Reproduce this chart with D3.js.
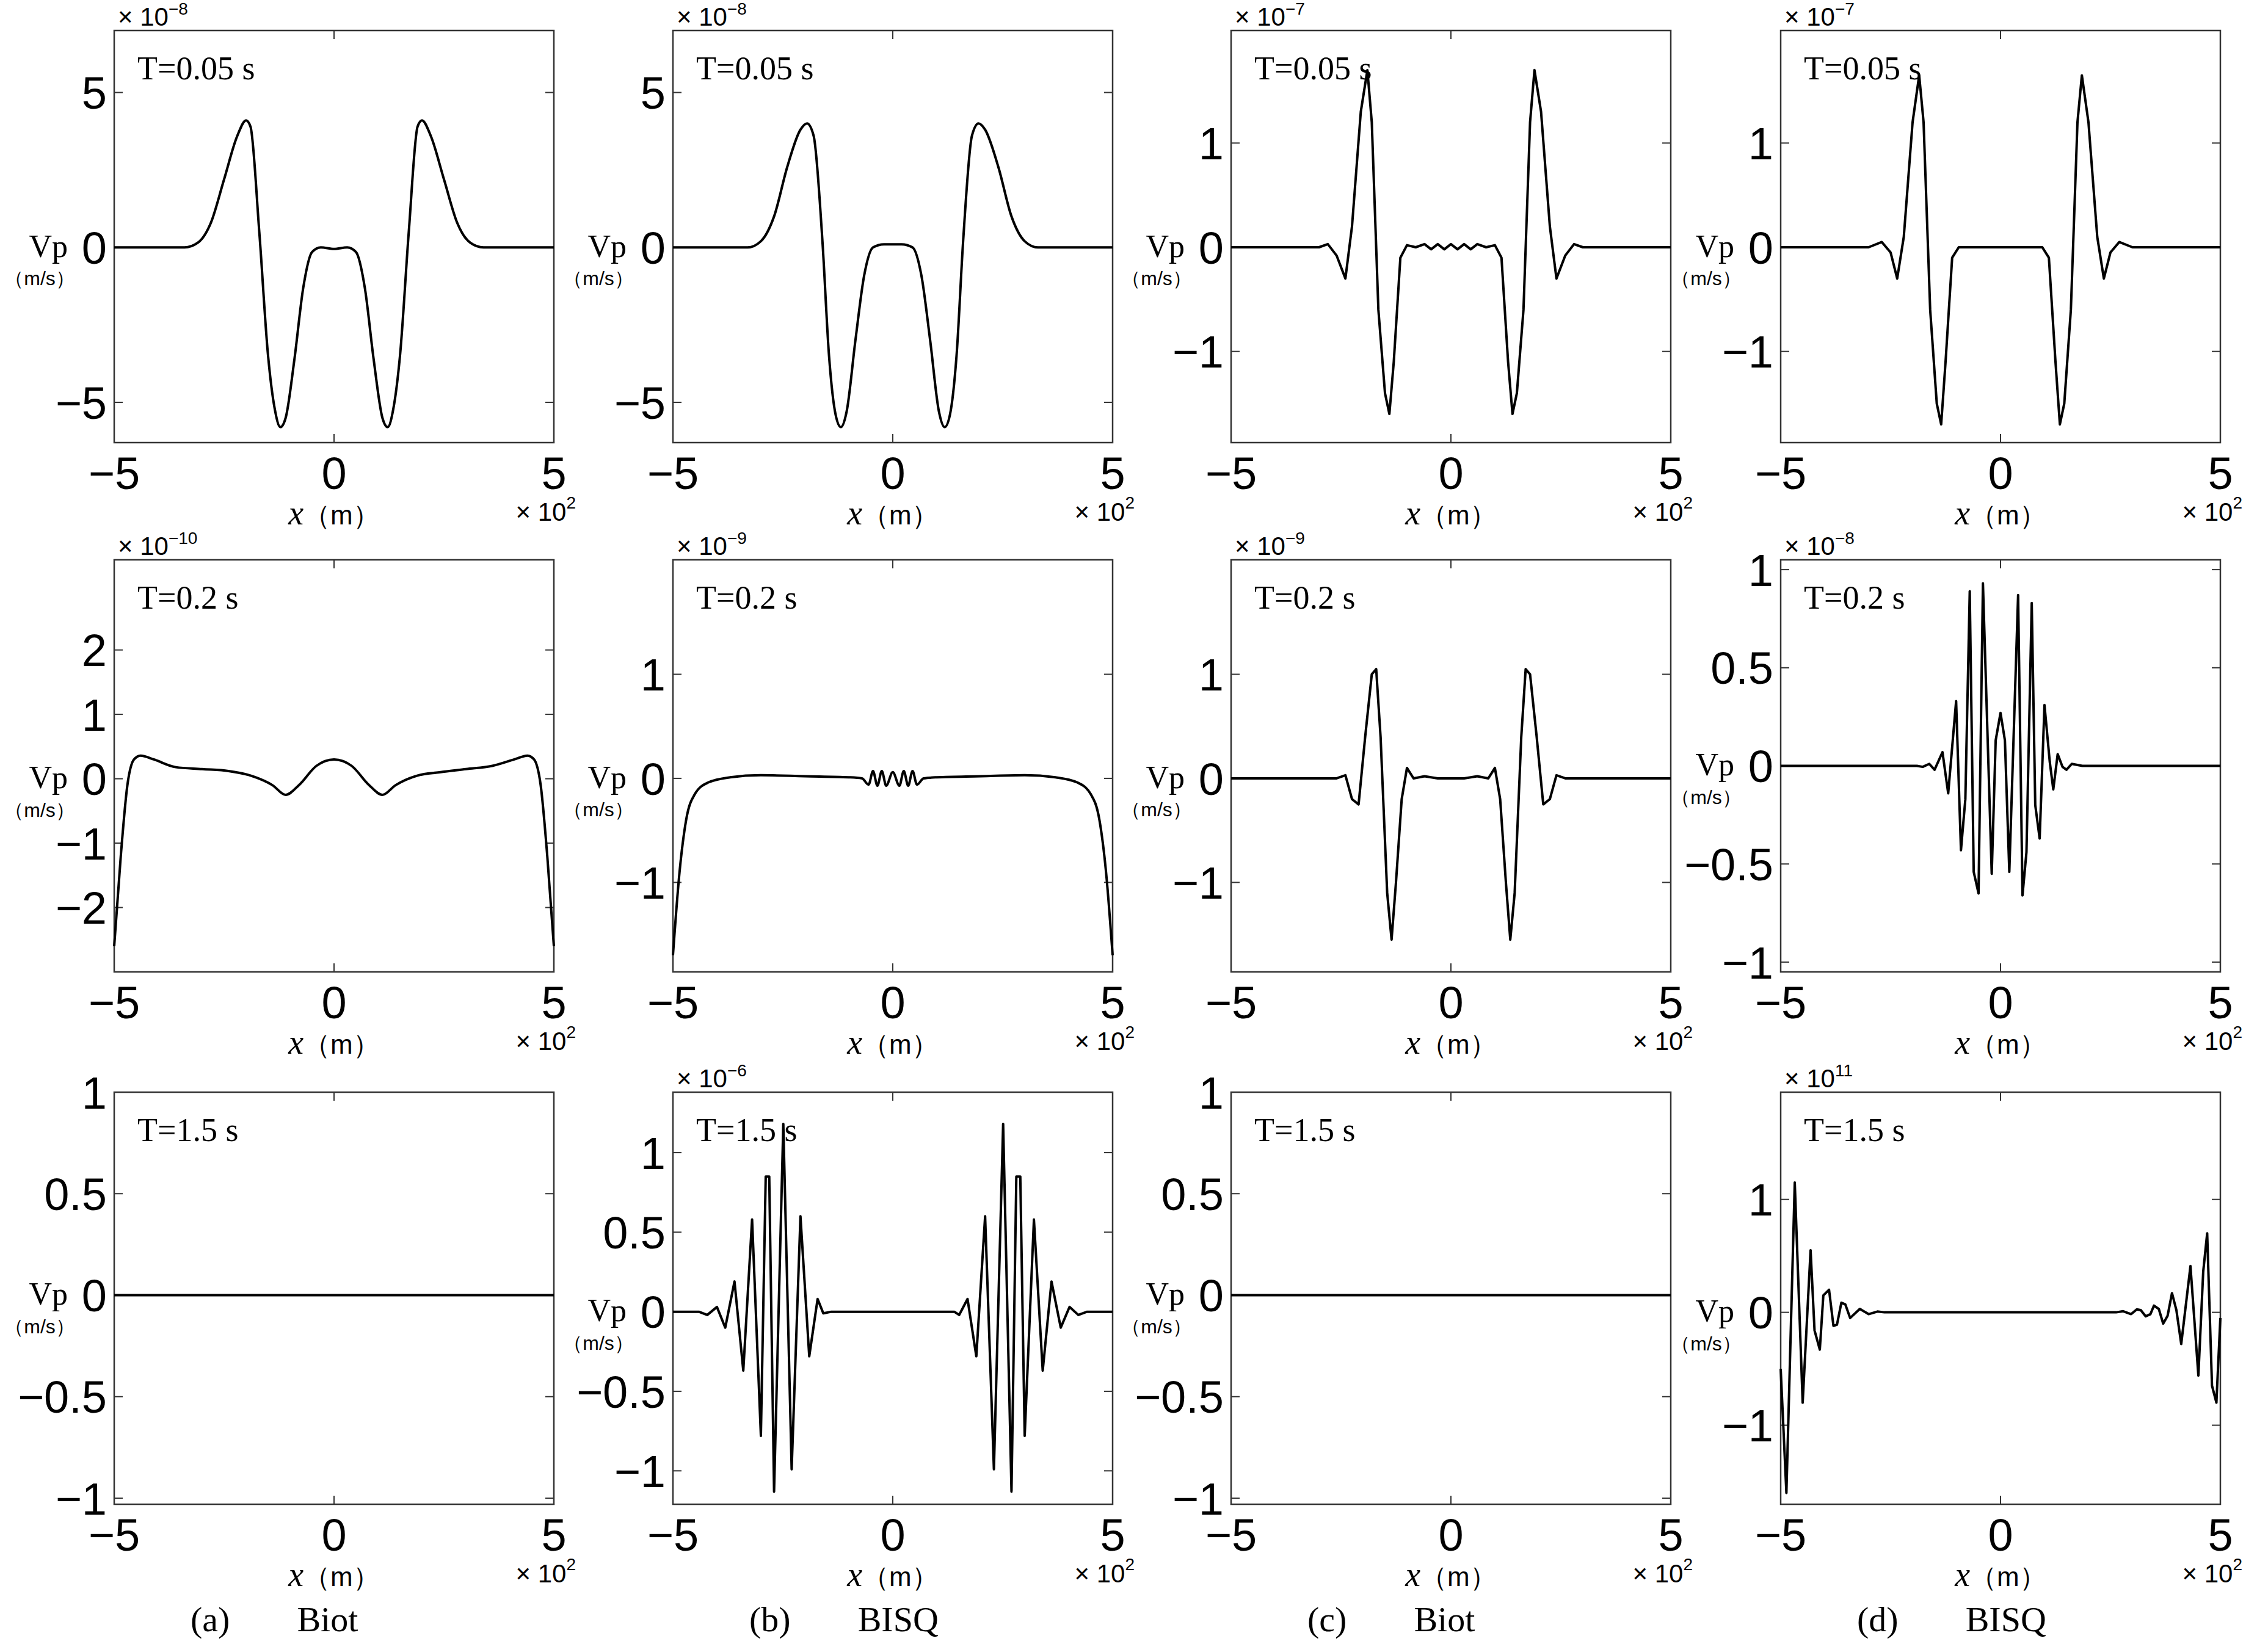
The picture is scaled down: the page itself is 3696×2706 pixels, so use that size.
<!DOCTYPE html>
<html><head><meta charset="utf-8">
<script src="https://cdn.jsdelivr.net/npm/d3@7"></script>
<style>body{margin:0;background:#fff}</style>
</head><body>
<svg id="fig" width="3696" height="2706"></svg>
<script>
// x in units of 100 m, y in units of the panel multiplier
const r1c1 = [[-5,0],[-3.4,0],[-3.1,0.15],[-2.8,0.8],[-2.5,2.2],[-2.2,3.6],[-2.0,4.1],[-1.9,3.9],[-1.7,0.5],[-1.5,-3.5],[-1.35,-5.2],[-1.22,-5.8],[-1.1,-5.5],[-0.9,-3.6],[-0.7,-1.3],[-0.5,-0.15],[-0.3,0],[0,-0.05],[0.3,0],[0.5,-0.15],[0.7,-1.3],[0.9,-3.6],[1.1,-5.5],[1.22,-5.8],[1.35,-5.2],[1.5,-3.5],[1.7,0.5],[1.9,3.9],[2.0,4.1],[2.2,3.6],[2.5,2.2],[2.8,0.8],[3.1,0.15],[3.4,0],[5,0]];
const r1c2 = [[-5,0],[-3.3,0],[-3.0,0.2],[-2.7,1.0],[-2.4,2.6],[-2.1,3.8],[-1.95,4.0],[-1.8,3.6],[-1.6,0.2],[-1.45,-3.5],[-1.3,-5.4],[-1.18,-5.8],[-1.05,-5.3],[-0.85,-3.0],[-0.65,-0.9],[-0.45,0],[-0.2,0.1],[0,0.1],[0.2,0.1],[0.45,0],[0.65,-0.9],[0.85,-3.0],[1.05,-5.3],[1.18,-5.8],[1.3,-5.4],[1.45,-3.5],[1.6,0.2],[1.8,3.6],[1.95,4.0],[2.1,3.8],[2.4,2.6],[2.7,1.0],[3.0,0.2],[3.3,0],[5,0]];
const r1c3 = [[-5,0],[-3.0,0],[-2.8,0.03],[-2.6,-0.08],[-2.4,-0.3],[-2.25,0.2],[-2.05,1.3],[-1.9,1.7],[-1.8,1.2],[-1.65,-0.6],[-1.5,-1.4],[-1.4,-1.6],[-1.3,-1.1],[-1.15,-0.1],[-1.0,0.02],[-0.8,0],[-0.6,0.03],[-0.45,-0.02],[-0.3,0.03],[-0.15,-0.02],[0,0.03],[0.15,-0.02],[0.3,0.03],[0.45,-0.02],[0.6,0.03],[0.8,0],[1.0,0.02],[1.15,-0.1],[1.3,-1.1],[1.4,-1.6],[1.5,-1.4],[1.65,-0.6],[1.8,1.2],[1.9,1.7],[2.05,1.3],[2.25,0.2],[2.4,-0.3],[2.6,-0.08],[2.8,0.03],[3.0,0],[5,0]];
const r1c4 = [[-5,0],[-3.0,0],[-2.7,0.05],[-2.5,-0.05],[-2.35,-0.3],[-2.2,0.1],[-2.0,1.2],[-1.85,1.65],[-1.75,1.2],[-1.6,-0.6],[-1.45,-1.5],[-1.35,-1.7],[-1.25,-1.1],[-1.1,-0.1],[-0.95,0],[0,0],[0.95,0],[1.1,-0.1],[1.25,-1.1],[1.35,-1.7],[1.45,-1.5],[1.6,-0.6],[1.75,1.2],[1.85,1.65],[2.0,1.2],[2.2,0.1],[2.35,-0.3],[2.5,-0.05],[2.7,0.05],[3.0,0],[5,0]];
const r2c1 = [[-5,-2.6],[-4.85,-1.2],[-4.7,-0.1],[-4.55,0.3],[-4.4,0.36],[-4.1,0.3],[-3.6,0.18],[-3.0,0.15],[-2.4,0.12],[-1.9,0.05],[-1.4,-0.1],[-1.1,-0.25],[-0.8,-0.1],[-0.4,0.2],[0,0.3],[0.4,0.2],[0.8,-0.1],[1.1,-0.25],[1.4,-0.1],[1.9,0.05],[2.4,0.1],[3.0,0.15],[3.6,0.2],[4.1,0.3],[4.4,0.36],[4.55,0.3],[4.7,-0.1],[4.85,-1.2],[5,-2.6]];
const r2c2 = [[-5,-1.7],[-4.85,-0.9],[-4.7,-0.4],[-4.5,-0.15],[-4.2,-0.04],[-3.7,0.01],[-3.0,0.03],[-2.0,0.02],[-1.0,0.01],[-0.7,0],[-0.55,-0.06],[-0.45,0.07],[-0.35,-0.07],[-0.25,0.07],[-0.15,-0.07],[0,0.06],[0.15,-0.07],[0.25,0.07],[0.35,-0.07],[0.45,0.07],[0.55,-0.06],[0.7,0],[1.0,0.01],[2.0,0.02],[3.0,0.03],[3.7,0.01],[4.2,-0.04],[4.5,-0.15],[4.7,-0.4],[4.85,-0.9],[5,-1.7]];
const r2c3 = [[-5,0],[-2.6,0],[-2.4,0.03],[-2.25,-0.2],[-2.1,-0.25],[-1.95,0.4],[-1.8,1.0],[-1.7,1.05],[-1.6,0.4],[-1.45,-1.1],[-1.35,-1.55],[-1.25,-1.0],[-1.12,-0.2],[-1.0,0.1],[-0.85,0.0],[-0.6,0.02],[-0.3,0.0],[0,0.0],[0.3,0.0],[0.6,0.02],[0.85,0.0],[1.0,0.1],[1.12,-0.2],[1.25,-1.0],[1.35,-1.55],[1.45,-1.1],[1.6,0.4],[1.7,1.05],[1.8,1.0],[1.95,0.4],[2.1,-0.25],[2.25,-0.2],[2.4,0.03],[2.6,0],[5,0]];
const r2c4 = [[-5,0],[-1.9,0],[-1.77,-0.005],[-1.62,0.01],[-1.5,-0.02],[-1.32,0.07],[-1.19,-0.14],[-1.01,0.33],[-0.9,-0.43],[-0.8,-0.17],[-0.7,0.89],[-0.61,-0.54],[-0.5,-0.65],[-0.4,0.93],[-0.2,-0.55],[-0.11,0.13],[0,0.27],[0.1,0.13],[0.2,-0.54],[0.4,0.87],[0.5,-0.66],[0.59,-0.44],[0.71,0.83],[0.79,-0.2],[0.89,-0.37],[1.0,0.31],[1.12,0.02],[1.2,-0.12],[1.3,0.06],[1.41,-0.005],[1.5,-0.02],[1.62,0.01],[1.86,0],[5,0]];
const r3c1 = [[-5,0],[5,0]];
const r3c2 = [[-5,0],[-4.41,0],[-4.22,-0.02],[-4.0,0.03],[-3.81,-0.1],[-3.6,0.19],[-3.4,-0.37],[-3.2,0.58],[-3.0,-0.78],[-2.89,0.85],[-2.81,0.85],[-2.7,-1.13],[-2.49,1.18],[-2.3,-0.99],[-2.1,0.6],[-1.9,-0.28],[-1.71,0.08],[-1.58,-0.01],[-1.4,0],[1.4,0],[1.51,-0.02],[1.7,0.08],[1.9,-0.28],[2.1,0.6],[2.3,-0.99],[2.51,1.18],[2.7,-1.13],[2.81,0.85],[2.9,0.85],[3.0,-0.78],[3.21,0.58],[3.41,-0.37],[3.61,0.19],[3.82,-0.1],[4.02,0.03],[4.22,-0.02],[4.42,0],[5,0]];
const r3c3 = [[-5,0],[5,0]];
const r3c4 = [[-5,-0.5],[-4.87,-1.6],[-4.68,1.15],[-4.5,-0.8],[-4.32,0.55],[-4.23,-0.16],[-4.11,-0.33],[-4.03,0.15],[-3.9,0.2],[-3.8,-0.12],[-3.72,-0.11],[-3.62,0.085],[-3.53,0.07],[-3.42,-0.05],[-3.2,0.03],[-3.0,-0.016],[-2.8,0.007],[-2.64,0],[2.63,0],[2.79,0.01],[2.97,-0.016],[3.1,0.026],[3.19,0.02],[3.3,-0.035],[3.41,-0.016],[3.49,0.06],[3.6,0.03],[3.7,-0.1],[3.8,-0.03],[3.9,0.17],[4.0,0.02],[4.11,-0.28],[4.32,0.41],[4.5,-0.56],[4.61,0.36],[4.7,0.7],[4.81,-0.65],[4.91,-0.8],[5.0,-0.05]];

const times = ["T=0.05 s", "T=0.2 s", "T=1.5 s"];
const captions = ["(a)", "(b)", "(c)", "(d)"];
const models = ["Biot", "BISQ", "Biot", "BISQ"];
const xTicks = [-5, 0, 5];

// panel settings: data, y domain, y ticks, multiplier exponent (null = none), smooth
const panels = [
  [r1c1, [-6.3, 7], [-5, 0, 5], "−8", true], [r1c2, [-6.3, 7], [-5, 0, 5], "−8", true],
  [r1c3, [-1.875, 2.08], [-1, 0, 1], "−7", false], [r1c4, [-1.875, 2.08], [-1, 0, 1], "−7", false],
  [r2c1, [-3.0, 3.4], [-2, -1, 0, 1, 2], "−10", true], [r2c2, [-1.86, 2.1], [-1, 0, 1], "−9", true],
  [r2c3, [-1.86, 2.1], [-1, 0, 1], "−9", false], [r2c4, [-1.05, 1.05], [-1, -0.5, 0, 0.5, 1], "−8", false],
  [r3c1, [-1.03, 1.0], [-1, -0.5, 0, 0.5, 1], null, false], [r3c2, [-1.21, 1.38], [-1, -0.5, 0, 0.5, 1], "−6", false],
  [r3c3, [-1.03, 1.0], [-1, -0.5, 0, 0.5, 1], null, false], [r3c4, [-1.7, 1.95], [-1, 0, 1], "11", false]
];

const colX = [187, 1102, 2016, 2916];
const rowY = [50, 917, 1789];
const W = 720, H = 675;
const sans = "'Liberation Sans Narrow','Liberation Sans',sans-serif";
const serif = "'Liberation Serif','Times New Roman',serif";

const svg = d3.select("#fig");

panels.forEach((p, i) => {
  const [data, ydom, yt, expo, smooth] = p;
  const r = Math.floor(i / 4), c = i % 4;
  const g = svg.append("g").attr("transform", `translate(${colX[c]},${rowY[r]})`);
  const x = d3.scaleLinear().domain([-5, 5]).range([0, W]);
  const y = d3.scaleLinear().domain(ydom).range([H, 0]);

  g.append("rect").attr("width", W).attr("height", H)
    .attr("fill", "none").attr("stroke", "#333").attr("stroke-width", 2.5);

  // inward ticks on all sides
  const tl = 14;
  yt.forEach(v => {
    g.append("line").attr("x1", 0).attr("x2", tl).attr("y1", y(v)).attr("y2", y(v)).attr("stroke", "#333").attr("stroke-width", 2);
    g.append("line").attr("x1", W).attr("x2", W - tl).attr("y1", y(v)).attr("y2", y(v)).attr("stroke", "#333").attr("stroke-width", 2);
    g.append("text").attr("x", -12).attr("y", y(v)).attr("dy", "0.36em")
      .attr("text-anchor", "end").attr("font-family", sans).attr("font-size", 74)
      .text(String(v).replace("-", "−"));
  });
  xTicks.forEach(v => {
    g.append("line").attr("x1", x(v)).attr("x2", x(v)).attr("y1", H).attr("y2", H - tl).attr("stroke", "#333").attr("stroke-width", 2);
    g.append("line").attr("x1", x(v)).attr("x2", x(v)).attr("y1", 0).attr("y2", tl).attr("stroke", "#333").attr("stroke-width", 2);
    g.append("text").attr("x", x(v)).attr("y", H + 76)
      .attr("text-anchor", "middle").attr("font-family", sans).attr("font-size", 74)
      .text(String(v).replace("-", "−"));
  });

  const line = d3.line().x(d => x(d[0])).y(d => y(d[1]))
    .curve(smooth ? d3.curveMonotoneX : d3.curveLinear);
  g.append("path").datum(data).attr("d", line)
    .attr("fill", "none").attr("stroke", "#000").attr("stroke-width", 4)
    .attr("stroke-linejoin", "round");

  // labels
  g.append("text").attr("x", 38).attr("y", 80).attr("font-family", serif)
    .attr("font-size", 54).text(times[r]);
  g.append("text").attr("x", -76).attr("y", y(0)).attr("dy", "0.3em")
    .attr("text-anchor", "end").attr("font-family", serif).attr("font-size", 52).text("Vp");
  g.append("text").attr("x", -122).attr("y", y(0) + 62)
    .attr("text-anchor", "middle").attr("font-family", sans).attr("font-size", 32).text("（m/s）");
  const xl = g.append("text").attr("x", W / 2).attr("y", H + 134)
    .attr("text-anchor", "middle").attr("font-size", 44);
  xl.append("tspan").attr("font-family", serif).attr("font-style", "italic").attr("font-size", 56).text("x");
  xl.append("tspan").attr("font-family", sans).text("（m）");
  const xm = g.append("text").attr("x", W + 36).attr("y", H + 128)
    .attr("text-anchor", "end").attr("font-family", sans).attr("font-size", 42);
  xm.append("tspan").text("× 10");
  xm.append("tspan").attr("dy", -20).attr("font-size", 28).text("2");
  if (expo) {
    const ym = g.append("text").attr("x", 6).attr("y", -8)
      .attr("font-family", sans).attr("font-size", 42);
    ym.append("tspan").text("× 10");
    ym.append("tspan").attr("dy", -18).attr("font-size", 28).text(expo);
  }
});

captions.forEach((cap, c) => {
  const t = svg.append("text").attr("x", colX[c] + 125).attr("y", 2672)
    .attr("font-family", serif).attr("font-size", 58);
  t.append("tspan").text(cap);
  t.append("tspan").attr("dx", 110).text(models[c]);
});
</script>
</body></html>
